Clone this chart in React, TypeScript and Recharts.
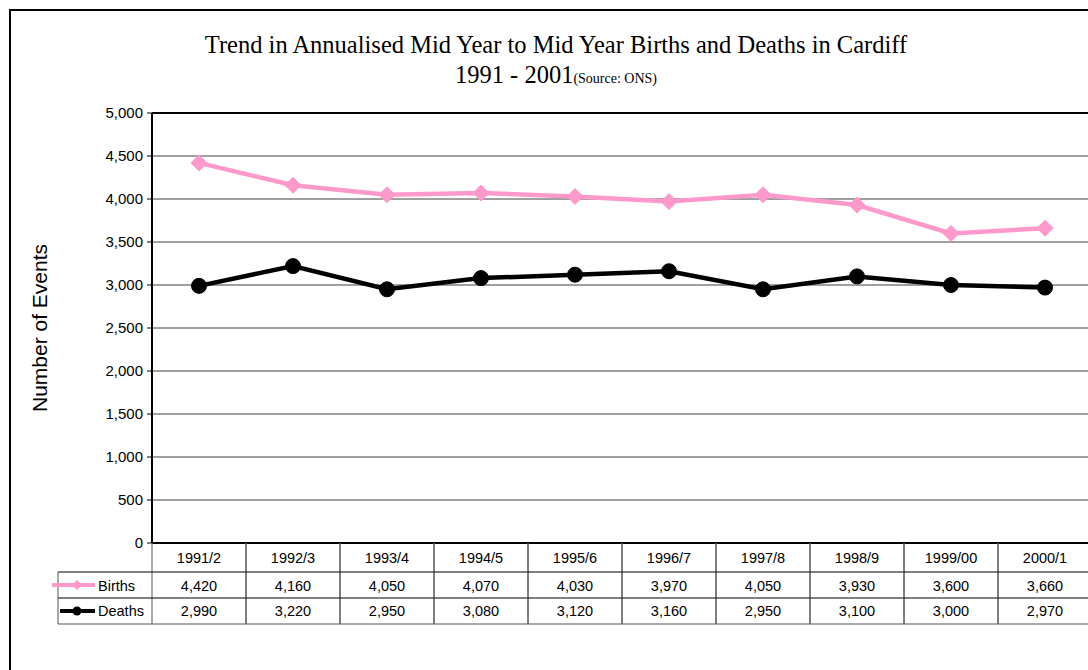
import React from 'react';
import { LineChart, Line, XAxis, YAxis, CartesianGrid, ReferenceLine } from 'recharts';

const categories = ['1991/2', '1992/3', '1993/4', '1994/5', '1995/6', '1996/7', '1997/8', '1998/9', '1999/00', '2000/1'];
const births = [4420, 4160, 4050, 4070, 4030, 3970, 4050, 3930, 3600, 3660];
const deaths = [2990, 3220, 2950, 3080, 3120, 3160, 2950, 3100, 3000, 2970];
const yTicks = [0, 500, 1000, 1500, 2000, 2500, 3000, 3500, 4000, 4500, 5000];
const seriesNames = ['Births', 'Deaths'];

const data = categories.map((c, i) => ({ period: c, births: births[i], deaths: deaths[i] }));

const PINK = '#FF99CC';
const SANS = '"Liberation Sans", Arial, Helvetica, sans-serif';
const SERIF = '"Liberation Serif", "Times New Roman", serif';
const fmt = (v: number) => v.toLocaleString('en-US');

const HEADER_H = 29;
const ROW_H = 26;
const TABLE_H = HEADER_H + ROW_H * 2;

const DiamondDot = (props: any) => {
  const { cx, cy, index } = props;
  if (cx == null || cy == null) return <g key={`d-${index}`} />;
  const s = 8;
  return (
    <polygon
      key={`d-${index}`}
      points={`${cx},${cy - s} ${cx + s},${cy} ${cx},${cy + s} ${cx - s},${cy}`}
      fill={PINK}
      stroke={PINK}
    />
  );
};

const TableTick = (props: any) => {
  const { x, y, payload, index } = props;
  const i = payload && payload.index != null ? payload.index : index;
  const w = payload && payload.offset > 0 ? payload.offset * 2 : props.width ? props.width / categories.length : 94;
  const left = x - w / 2;
  const textStyle = { fontFamily: SANS, fontSize: 14.5, fill: '#000' };
  return (
    <g>
      <line x1={left} y1={y} x2={left} y2={y + TABLE_H} stroke="#555" strokeWidth={1} />
      <line x1={left + w} y1={y} x2={left + w} y2={y + TABLE_H} stroke="#555" strokeWidth={1} />
      <line x1={left} y1={y + HEADER_H} x2={left + w} y2={y + HEADER_H} stroke="#000" strokeWidth={1} />
      <line x1={left} y1={y + HEADER_H + ROW_H} x2={left + w} y2={y + HEADER_H + ROW_H} stroke="#000" strokeWidth={1} />
      <line x1={left} y1={y + TABLE_H} x2={left + w} y2={y + TABLE_H} stroke="#555" strokeWidth={1} />
      <text x={x} y={y + 20} textAnchor="middle" style={textStyle}>{payload.value}</text>
      <text x={x} y={y + 48} textAnchor="middle" style={textStyle}>{fmt(births[i])}</text>
      <text x={x} y={y + 73} textAnchor="middle" style={textStyle}>{fmt(deaths[i])}</text>
      {i === 0 && (
        <g>
          <line x1={left - w} y1={y + HEADER_H} x2={left} y2={y + HEADER_H} stroke="#000" strokeWidth={1} />
          <line x1={left - w} y1={y + HEADER_H + ROW_H} x2={left} y2={y + HEADER_H + ROW_H} stroke="#000" strokeWidth={1} />
          <line x1={left - w} y1={y + TABLE_H} x2={left} y2={y + TABLE_H} stroke="#555" strokeWidth={1} />
          <line x1={left - w} y1={y + HEADER_H} x2={left - w} y2={y + TABLE_H} stroke="#555" strokeWidth={1} />
          <line x1={left - w - 6} y1={y + HEADER_H + 13} x2={left - w + 37} y2={y + HEADER_H + 13} stroke={PINK} strokeWidth={4} />
          <polygon
            points={`${left - w + 19},${y + HEADER_H + 8} ${left - w + 24},${y + HEADER_H + 13} ${left - w + 19},${y + HEADER_H + 18} ${left - w + 14},${y + HEADER_H + 13}`}
            fill={PINK}
          />
          <text x={left - w + 40} y={y + 48} style={textStyle}>{seriesNames[0]}</text>
          <line x1={left - w + 2} y1={y + HEADER_H + ROW_H + 13} x2={left - w + 37} y2={y + HEADER_H + ROW_H + 13} stroke="#000" strokeWidth={4} />
          <circle cx={left - w + 19} cy={y + HEADER_H + ROW_H + 13} r={4.5} fill="#000" />
          <text x={left - w + 40} y={y + 73} style={textStyle}>{seriesNames[1]}</text>
        </g>
      )}
    </g>
  );
};

export default function App() {
  return (
    <div style={{ position: 'fixed', left: 0, top: 0, width: 1088, height: 670, overflow: 'hidden', background: '#fff' }}>
      <div style={{ position: 'absolute', left: 0, top: 0 }}>
        <LineChart width={1100} height={700} data={data} margin={{ top: 113, right: 8, bottom: 76, left: 92 }}>
          <CartesianGrid vertical={false} stroke="#404040" strokeWidth={1} />
          <XAxis
            dataKey="period"
            scale="band"
            height={TABLE_H}
            interval={0}
            tickLine={false}
            tickSize={0}
            tickMargin={0}
            axisLine={{ stroke: '#000', strokeWidth: 2 }}
            tick={<TableTick />}
          />
          <YAxis
            width={60}
            domain={[0, 5000]}
            ticks={yTicks}
            interval={0}
            tickSize={5}
            tickMargin={4}
            tickFormatter={fmt}
            axisLine={{ stroke: '#000', strokeWidth: 2 }}
            tickLine={{ stroke: '#000' }}
            tick={{ fontFamily: SANS, fontSize: 15, fill: '#000' }}
          />
          <ReferenceLine y={5000} stroke="#000" strokeWidth={2} />
          <Line
            dataKey="births"
            stroke={PINK}
            strokeWidth={4.5}
            dot={DiamondDot}
            activeDot={false}
            isAnimationActive={false}
          />
          <Line
            dataKey="deaths"
            stroke="#000"
            strokeWidth={4.5}
            dot={{ r: 7.5, fill: '#000', stroke: '#000', strokeWidth: 1 }}
            activeDot={false}
            isAnimationActive={false}
          />
        </LineChart>
      </div>
      <svg width={1088} height={670} style={{ position: 'absolute', left: 0, top: 0, pointerEvents: 'none' }}>
        <rect x={10} y={10} width={2000} height={2000} fill="none" stroke="#000" strokeWidth={2} />
        <text x={556} y={53} textAnchor="middle" style={{ fontFamily: SERIF, fontSize: 24.5, fill: '#000' }}>
          Trend in Annualised Mid Year to Mid Year Births and Deaths in Cardiff
        </text>
        <text x={556} y={83} textAnchor="middle" style={{ fontFamily: SERIF, fontSize: 24.5, fill: '#000' }}>
          1991 - 2001<tspan style={{ fontSize: 14 }}>(Source: ONS)</tspan>
        </text>
        <text
          x={47}
          y={328}
          textAnchor="middle"
          transform="rotate(-90 47 328)"
          style={{ fontFamily: SANS, fontSize: 21, fill: '#000' }}
        >
          Number of Events
        </text>
      </svg>
    </div>
  );
}
